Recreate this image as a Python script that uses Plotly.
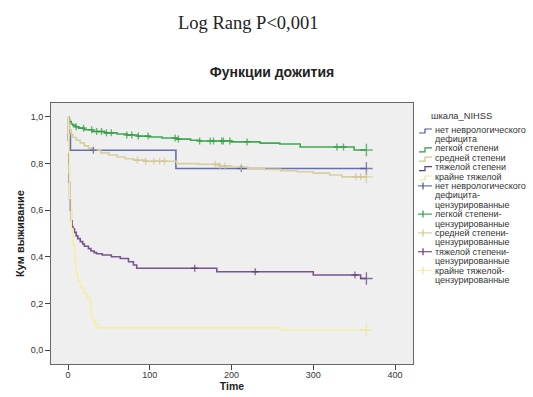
import plotly.graph_objects as go

# Kaplan-Meier survival by NIHSS group: event times (days) and survival
t_none = [0, 1, 3, 132, 365]
s_none = [1.0, 0.929, 0.857, 0.779, 0.779]
c_none = [31, 212, 365]

t_mild = [0, 1, 2, 4, 6, 9, 13, 20, 30, 45, 60, 72, 85, 100, 115, 133, 150, 161,
          200, 235, 259, 284, 350, 365]
s_mild = [1.0, 0.99, 0.98, 0.97, 0.965, 0.958, 0.952, 0.945, 0.938, 0.932, 0.927,
          0.923, 0.918, 0.914, 0.91, 0.905, 0.9, 0.897, 0.893, 0.888, 0.884, 0.871,
          0.858, 0.858]
c_mild = [10, 19, 29, 35, 41, 47, 53, 72, 78, 86, 98, 131, 135, 161, 174, 178, 188,
          190, 198, 219, 329, 337, 365]

t_mod = [0, 1, 2, 4, 6, 10, 15, 20, 25, 31, 40, 50, 60, 70, 80, 95, 133, 160, 185,
         200, 220, 240, 260, 280, 300, 320, 335, 365]
s_mod = [1.0, 0.97, 0.945, 0.925, 0.912, 0.9, 0.889, 0.876, 0.866, 0.858, 0.846,
         0.837, 0.828, 0.821, 0.815, 0.81, 0.8, 0.797, 0.79, 0.785, 0.78, 0.775,
         0.77, 0.765, 0.759, 0.751, 0.743, 0.743]
c_mod = [85, 95, 105, 112, 118, 180, 186, 192, 212, 352, 358, 365]

t_sev = [0, 0.5, 1, 1.5, 2, 3, 4, 5, 6, 8, 10, 12, 15, 18, 20, 25, 28, 32, 35, 42,
         53, 64, 74, 80, 84, 182, 300, 358, 365]
s_sev = [1.0, 0.9, 0.8, 0.72, 0.65, 0.6, 0.555, 0.53, 0.52, 0.505, 0.49, 0.478,
         0.465, 0.455, 0.445, 0.435, 0.425, 0.418, 0.413, 0.408, 0.4, 0.393, 0.379,
         0.365, 0.351, 0.336, 0.322, 0.307, 0.307]
c_sev = [155, 229, 351, 365]

t_crit = [0, 0.5, 1, 1.5, 2, 4, 6, 8, 10, 12, 15, 19, 23, 27, 28, 29, 31, 33, 36,
          260, 365]
s_crit = [1.0, 0.93, 0.85, 0.76, 0.65, 0.52, 0.45, 0.38, 0.33, 0.295, 0.27, 0.243,
          0.225, 0.207, 0.175, 0.145, 0.125, 0.11, 0.096, 0.086, 0.086]
c_crit = [365]

group_names = ["нет неврологического дефицита", "легкой степени", "средней степени",
               "тяжелой степени", "крайне тяжелой"]
colors = ["#6470b2", "#3fab50", "#d8cf9e", "#7b5390", "#f3efa8"]
mark_colors = ["#4a5699", "#2f9a40", "#cfc590", "#5e3a70", "#ebe69c"]

x_ticks = [0, 100, 200, 300, 400]
y_ticks = [0.0, 0.2, 0.4, 0.6, 0.8, 1.0]

curves = [(t_none, s_none, c_none), (t_mild, s_mild, c_mild), (t_mod, s_mod, c_mod),
          (t_sev, s_sev, c_sev), (t_crit, s_crit, c_crit)]


def survival_at(ts, ss, t):
    val = ss[0]
    for ti, si in zip(ts, ss):
        if ti <= t:
            val = si
    return val


fig = go.Figure()
for (ts, ss, cs), name, col, mcol in zip(curves, group_names, colors, mark_colors):
    fig.add_trace(go.Scatter(x=ts, y=ss, mode="lines", line_shape="hv",
                             line=dict(color=col, width=1.6), name=name,
                             showlegend=False, hoverinfo="skip"))
for (ts, ss, cs), name, col, mcol in zip(curves, group_names, colors, mark_colors):
    cy = [survival_at(ts, ss, c) for c in cs]
    sizes = [9 if c == cs[-1] else 5 for c in cs]
    fig.add_trace(go.Scatter(x=cs, y=cy, mode="markers", name=name + "-цензурированные",
                             marker=dict(symbol="cross-thin", size=sizes,
                                         line=dict(color=mcol, width=1.4)),
                             showlegend=False, hoverinfo="skip"))

W, H = 533, 397
L, R, T, B = 51, 120, 103, 33
PW, PH = W - L - R, H - T - B


def px(x):
    return (x - L) / PW


def py(y):
    return (H - B - y) / PH


annotations = []
shapes = []

# Legend block to the right of the plot
legend_items = [
    (["нет неврологического", "дефицита"], 0, "line"),
    (["легкой степени"], 1, "line"),
    (["средней степени"], 2, "line"),
    (["тяжелой степени"], 3, "line"),
    (["крайне тяжелой"], 4, "line"),
    (["нет неврологического", "дефицита-", "цензурированные"], 0, "cens"),
    (["легкой степени-", "цензурированные"], 1, "cens"),
    (["средней степени-", "цензурированные"], 2, "cens"),
    (["тяжелой степени-", "цензурированные"], 3, "cens"),
    (["крайне тяжелой-", "цензурированные"], 4, "cens"),
]
leg_font = dict(family="Liberation Sans, Arial, sans-serif", size=9, color="#333333")
annotations.append(dict(text="шкала_NIHSS", x=px(461), y=py(116), xref="paper",
                        yref="paper", xanchor="center", yanchor="middle",
                        showarrow=False, font=dict(family="Liberation Sans, Arial, sans-serif",
                                                   size=9.3, color="#333333")))
line_y0, line_step = 129.5, 9.4
row = 0
for lines, gi, kind in legend_items:
    yc = line_y0 + row * line_step
    if kind == "line":
        path = "M {} {} L {} {} L {} {} L {} {}".format(
            px(419), py(yc + 3.5), px(425), py(yc + 3.5), px(425), py(yc - 0.5),
            px(432), py(yc - 0.5))
        shapes.append(dict(type="path", path=path, xref="paper", yref="paper",
                           line=dict(color=mark_colors[gi], width=1.2)))
    else:
        shapes.append(dict(type="line", x0=px(418), x1=px(432), y0=py(yc), y1=py(yc),
                           xref="paper", yref="paper",
                           line=dict(color=colors[gi], width=1.2)))
        shapes.append(dict(type="line", x0=px(423), x1=px(423), y0=py(yc - 3.5),
                           y1=py(yc + 3.5), xref="paper", yref="paper",
                           line=dict(color=mark_colors[gi], width=1.2)))
    for ln in lines:
        annotations.append(dict(text=ln, x=px(433), y=py(line_y0 + row * line_step),
                                xref="paper", yref="paper", xanchor="left",
                                yanchor="middle", showarrow=False, font=leg_font))
        row += 1

annotations.append(dict(text="Log Rang P<0,001", x=px(248), y=py(23),
                        xref="paper", yref="paper", xanchor="center",
                        yanchor="middle", showarrow=False,
                        font=dict(family="Liberation Serif, Times New Roman, serif",
                                  size=18.5, color="#222222")))

fig.update_layout(
    width=W, height=H,
    margin=dict(l=L, r=R, t=T, b=B),
    paper_bgcolor="white",
    plot_bgcolor="#efefef",
    separators=", ",
    title=dict(text="<b>Функции дожития</b>", x=272 / W, xanchor="center",
               y=1 - 72 / H, yanchor="middle",
               font=dict(family="Liberation Sans, Arial, sans-serif", size=14,
                         color="#222222")),
    xaxis=dict(range=[-20.8, 422], tickvals=x_ticks, ticks="outside", ticklen=5,
               tickcolor="#444444", showline=True, mirror=True, linecolor="#666666",
               linewidth=1, showgrid=False, zeroline=False, automargin=False,
               ticklabelstandoff=-3,
               tickfont=dict(family="Liberation Sans, Arial, sans-serif", size=9,
                             color="#333333"),
               title=dict(text="<b>Time</b>", standoff=0,
                          font=dict(family="Liberation Sans, Arial, sans-serif",
                                    size=10.5, color="#222222"))),
    yaxis=dict(range=[-0.06, 1.06], tickvals=y_ticks, tickformat=".1f",
               ticks="outside", ticklen=5, tickcolor="#444444", showline=True,
               mirror=True, linecolor="#666666", linewidth=1, showgrid=False,
               zeroline=False, automargin=False,
               tickfont=dict(family="Liberation Sans, Arial, sans-serif", size=9,
                             color="#333333"),
               title=dict(text="<b>Кум выживание</b>", standoff=3,
                          font=dict(family="Liberation Sans, Arial, sans-serif",
                                    size=11, color="#222222"))),
    annotations=annotations,
    shapes=shapes,
    showlegend=False,
)

fig.write_html("out.html")
